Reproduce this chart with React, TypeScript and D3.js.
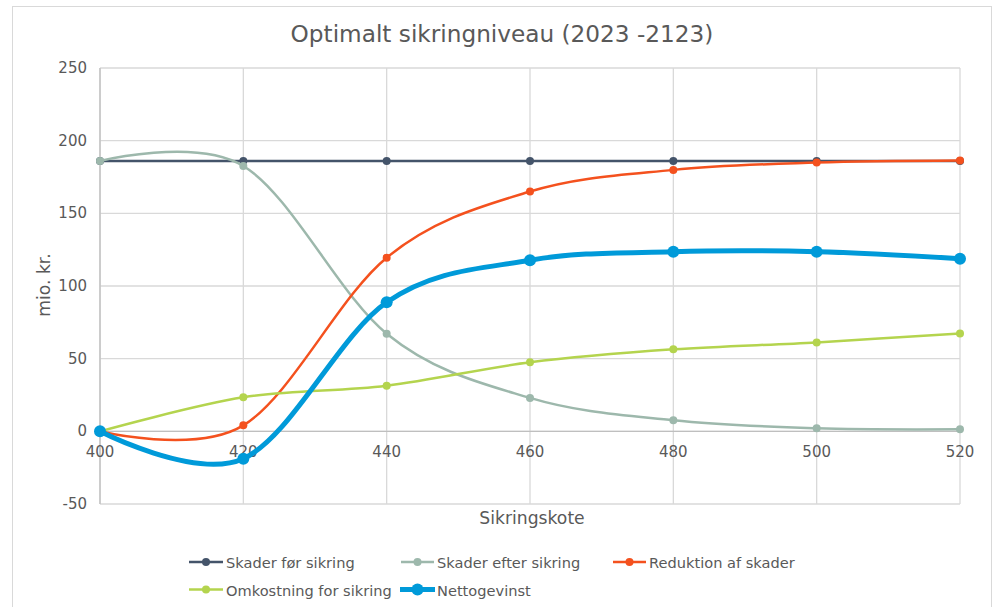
import React from "react";
import * as d3 from "d3";

const sikringskote = [400, 420, 440, 460, 480, 500, 520];
const skaderFoer = [186, 186, 186, 186, 186, 186, 186];
const skaderEfter = [186, 182.6, 67.2, 23, 7.6, 2.1, 1.4];
const reduktion = [0, 4.1, 119.5, 165, 179.9, 184.9, 186.3];
const omkostning = [0, 23.4, 31.4, 47.5, 56.4, 61.2, 67.4];
const nettogevinst = [0, -18.8, 88.8, 117.7, 123.6, 123.6, 118.8];
const yTicks = [-50, 0, 50, 100, 150, 200, 250];

const seriesNames = [
  "Skader før sikring",
  "Skader efter sikring",
  "Reduktion af skader",
  "Omkostning for sikring",
  "Nettogevinst",
];
const seriesValues = [skaderFoer, skaderEfter, reduktion, omkostning, nettogevinst];
const seriesColors = ["#44546a", "#9db8ac", "#f4511e", "#b4d44e", "#009ad9"];

const W = 997;
const H = 607;
const FONT = "'DejaVu Sans', Verdana, sans-serif";
const TEXT = "#595959";

export default function App() {
  const x = d3.scaleLinear().domain([400, 520]).range([100, 960]);
  const y = d3.scaleLinear().domain([-50, 250]).range([504, 68]);
  const line = d3
    .line<[number, number]>()
    .x((d) => x(d[0]))
    .y((d) => y(d[1]))
    .curve(d3.curveCatmullRom.alpha(0));

  // legend entry anchors: [line start, line end, text start, row centre]
  const legendPos = [
    [189, 223, 226, 562],
    [401, 434, 437, 562],
    [613, 646, 649, 562],
    [189, 223, 226, 589.5],
    [400, 435, 437, 589.5],
  ];

  return (
    <svg
      width={W}
      height={H}
      style={{ position: "absolute", left: 0, top: 0, background: "#fff" }}
      fontFamily={FONT}
    >
      <rect x={12.5} y={6.5} width={979} height={620} fill="#fff" stroke="#d9d9d9" />
      <text x={502} y={42} textAnchor="middle" fontSize={23.2} fill={TEXT}>
        Optimalt sikringniveau (2023 -2123)
      </text>

      {/* gridlines */}
      {yTicks.map((t) => (
        <line key={"gy" + t} x1={100} x2={960} y1={y(t)} y2={y(t)} stroke="#d9d9d9" strokeWidth={1.3} />
      ))}
      {sikringskote.map((t) => (
        <line key={"gx" + t} x1={x(t)} x2={x(t)} y1={68} y2={504} stroke="#d9d9d9" strokeWidth={1.3} />
      ))}
      <line x1={100} x2={100} y1={68} y2={504} stroke="#bfbfbf" strokeWidth={1.3} />
      <line x1={100} x2={960} y1={y(0)} y2={y(0)} stroke="#bfbfbf" strokeWidth={1.3} />

      {/* tick labels */}
      {yTicks.map((t) => (
        <text key={"ty" + t} x={87} y={y(t) + 5} textAnchor="end" fontSize={15} fill={TEXT}>
          {t}
        </text>
      ))}
      {sikringskote.map((t) => (
        <text key={"tx" + t} x={x(t)} y={457} textAnchor="middle" fontSize={15} fill={TEXT}>
          {t}
        </text>
      ))}
      <text x={532} y={524} textAnchor="middle" fontSize={17.2} fill={TEXT}>
        Sikringskote
      </text>
      <text
        transform={`translate(50,285) rotate(-90)`}
        textAnchor="middle"
        fontSize={17.2}
        fill={TEXT}
      >
        mio. kr.
      </text>

      {/* series */}
      {seriesValues.map((vals, i) => {
        const pts = sikringskote.map((k, j) => [k, vals[j]] as [number, number]);
        const thick = i === 4;
        return (
          <g key={"s" + i}>
            <path
              d={line(pts) || ""}
              fill="none"
              stroke={seriesColors[i]}
              strokeWidth={thick ? 5 : 2.5}
              strokeLinecap="round"
            />
            {pts.map((p, j) => (
              <circle key={j} cx={x(p[0])} cy={y(p[1])} r={thick ? 6 : 4} fill={seriesColors[i]} />
            ))}
          </g>
        );
      })}

      {/* legend */}
      {seriesNames.map((name, i) => {
        const [l0, l1, tx, ly] = legendPos[i];
        const thick = i === 4;
        return (
          <g key={"l" + i}>
            <line x1={l0} x2={l1} y1={ly} y2={ly} stroke={seriesColors[i]} strokeWidth={thick ? 5 : 2.5} />
            <circle cx={(l0 + l1) / 2} cy={ly} r={thick ? 6 : 4} fill={seriesColors[i]} />
            <text x={tx} y={ly + 6} fontSize={14.6} fill={TEXT}>
              {name}
            </text>
          </g>
        );
      })}
    </svg>
  );
}
